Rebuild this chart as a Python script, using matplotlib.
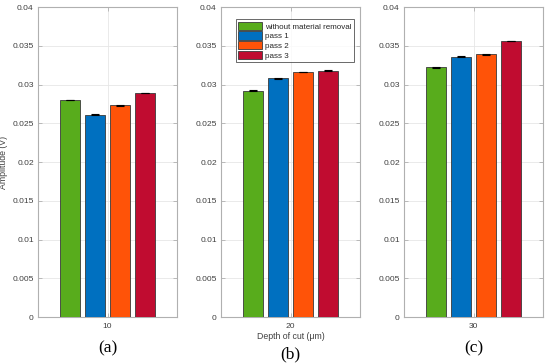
import matplotlib.pyplot as plt
import numpy as np

plt.rcParams['font.family'] = ['Liberation Sans', 'DejaVu Sans']

depths = [10, 20, 30]
series = ['without material removal', 'pass 1', 'pass 2', 'pass 3']
amp = [
    [0.0280, 0.0261, 0.0273, 0.0289],
    [0.0292, 0.0308, 0.0316, 0.0318],
    [0.0322, 0.0336, 0.0339, 0.0356],
]
err = [
    [0.00005, 0.00004, 0.00004, 0.00005],
    [0.00005, 0.00004, 0.00004, 0.00004],
    [0.00004, 0.00004, 0.00004, 0.00004],
]
panel_labels = ['(a)', '(b)', '(c)']
colors = ['#58AC1C', '#0070C0', '#FF5308', '#C00C30']

fig = plt.figure(figsize=(5.5, 3.63), dpi=100)
lefts = [38, 221, 404]
W, H = 550, 363
pitch = 0.18
bw = 0.147
txt = '#404040'

for i, d in enumerate(depths):
    ax = fig.add_axes([lefts[i] / W, 1 - 317 / H, 139 / W, 310 / H])
    for j in range(4):
        x = d + (j - 1.5) * pitch
        ax.bar(x, amp[i][j], width=bw, color=colors[j], edgecolor='#3a3a3a',
               linewidth=0.6, label=series[j], zorder=3)
        ax.errorbar(x, amp[i][j], yerr=err[i][j], fmt='none', ecolor='black',
                    elinewidth=0.8, capsize=3, capthick=0.8, zorder=4)
    ax.set_xlim(d - 0.5, d + 0.5)
    ax.set_ylim(0, 0.04)
    ax.set_xticks([d])
    ax.set_xticklabels([str(d)])
    yt = np.arange(0, 0.0401, 0.005)
    ax.set_yticks(yt)
    ax.set_yticklabels(['0'] + ['%g' % v for v in yt[1:]])
    ax.grid(True, color='#e6e6e6', linewidth=0.6, zorder=0)
    ax.tick_params(direction='in', length=3, labelsize=6.1, labelcolor=txt,
                   right=True, top=True, width=0.6, color='#b0b0b0', pad=3)
    ax.tick_params(axis='x', pad=4.5)
    for s in ax.spines.values():
        s.set_color('#b0b0b0')
        s.set_linewidth(0.8)
    y_lab = 354 if i == 1 else 348
    fig.text((lefts[i] + 69.5) / W, 1 - y_lab / H, panel_labels[i],
             family='Liberation Serif', fontsize=12.5, ha='center', va='center')
    if i == 0:
        ax.set_ylabel('Amplitude (V)', fontsize=6.3, color=txt)
        ax.yaxis.set_label_coords(-0.215, 0.5)
    if i == 1:
        ax.set_xlabel('Depth of cut (\u03bcm)', fontsize=6.3, color=txt, labelpad=1.5)
        leg = ax.legend(loc='upper left', bbox_to_anchor=(0.105, 0.96), fontsize=5.8,
                        frameon=True, fancybox=False, handlelength=3.0,
                        handleheight=1.2, handletextpad=0.3, borderpad=0.3,
                        labelspacing=0.1, borderaxespad=0)
        leg.get_frame().set_edgecolor('#262626')
        leg.get_frame().set_linewidth(0.6)
        for t in leg.get_texts():
            t.set_color('#262626')

fig.savefig('out.png', dpi=100)
